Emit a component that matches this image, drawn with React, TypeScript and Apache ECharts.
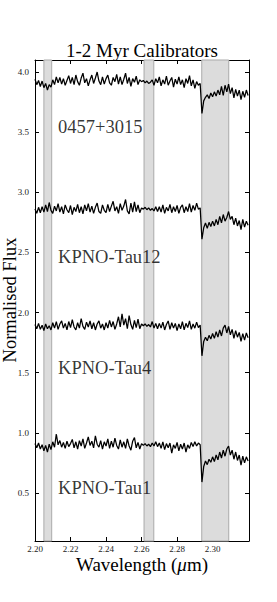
import React, { useEffect, useRef } from "react";
import * as echarts from "echarts";

// Sampling grid of the spectra (micron)
const WL_START = 2.2;
const WL_STEP = 0.001;

// Normalised flux (offset) of each spectrum
const S_0457 = [
  3.940, 3.895, 3.930, 3.880, 3.925, 3.870, 3.905, 3.850, 3.895, 3.875,
  3.935, 3.895, 3.960, 3.910, 3.955, 3.900, 3.945, 3.890, 3.930, 3.970,
  3.905, 3.955, 3.895, 3.975, 3.920, 3.890, 3.950, 3.990, 3.910, 3.945,
  3.885, 3.935, 3.975, 3.905, 3.950, 4.000, 3.925, 3.895, 3.960, 3.900,
  3.945, 3.975, 3.910, 3.890, 3.955, 3.920, 3.980, 3.900, 3.960, 3.895,
  3.940, 3.990, 3.905, 3.955, 3.880, 3.945, 3.915, 3.965, 3.895, 3.935,
  3.920, 3.930, 3.910, 3.925, 3.905, 3.915, 3.935, 3.890, 3.945, 3.910,
  3.960, 3.885, 3.935, 3.900, 3.965, 3.890, 3.925, 3.955, 3.875, 3.940,
  3.900, 3.960, 3.895, 3.935, 3.870, 3.945, 3.905, 3.970, 3.885, 3.935,
  3.865, 3.920, 3.890, 3.905, 3.655, 3.760, 3.790, 3.810, 3.780, 3.825,
  3.795, 3.835, 3.800, 3.850, 3.810, 3.880, 3.805, 3.890, 3.835, 3.900,
  3.820, 3.870, 3.785, 3.855, 3.800, 3.850, 3.770, 3.840, 3.790, 3.850,
  3.805,
];
const S_TAU12 = [
  2.860, 2.825, 2.875, 2.830, 2.880, 2.835, 2.895, 2.840, 2.915, 2.850,
  2.825, 2.885, 2.845, 2.905, 2.835, 2.880, 2.820, 2.895, 2.855, 2.830,
  2.890, 2.815, 2.875, 2.840, 2.900, 2.830, 2.880, 2.820, 2.895, 2.845,
  2.905, 2.835, 2.885, 2.825, 2.875, 2.910, 2.840, 2.825, 2.895, 2.850,
  2.830, 2.900, 2.840, 2.885, 2.925, 2.845, 2.880, 2.825, 2.905, 2.850,
  2.885, 2.940, 2.845, 2.820, 2.910, 2.835, 2.920, 2.840, 2.895, 2.830,
  2.870, 2.860, 2.875, 2.855, 2.870, 2.850, 2.865, 2.845, 2.880, 2.840,
  2.880, 2.835, 2.895, 2.825, 2.875, 2.845, 2.900, 2.830, 2.880, 2.840,
  2.890, 2.825, 2.875, 2.895, 2.830, 2.880, 2.840, 2.905, 2.835, 2.890,
  2.850, 2.910, 2.860, 2.870, 2.610, 2.705, 2.745, 2.700, 2.750, 2.715,
  2.760, 2.720, 2.775, 2.730, 2.800, 2.745, 2.815, 2.760, 2.790, 2.840,
  2.775, 2.800, 2.730, 2.785, 2.720, 2.765, 2.690, 2.775, 2.710, 2.760,
  2.725,
];
const S_TAU4 = [
  1.900, 1.865, 1.910, 1.860, 1.895, 1.850, 1.905, 1.865, 1.890, 1.855,
  1.915, 1.870, 1.925, 1.860, 1.905, 1.930, 1.870, 1.910, 1.855, 1.925,
  1.875, 1.940, 1.880, 1.855, 1.915, 1.870, 1.950, 1.885, 1.860, 1.920,
  1.880, 1.930, 1.865, 1.915, 1.855, 1.905, 1.930, 1.870, 1.905, 1.855,
  1.915, 1.870, 1.935, 1.880, 1.925, 1.860, 1.905, 1.965, 1.880, 1.990,
  1.895, 1.950, 1.865, 1.975, 1.900, 1.860, 1.935, 1.875, 1.945, 1.865,
  1.905, 1.890, 1.905, 1.885, 1.900, 1.880, 1.925, 1.870, 1.910, 1.865,
  1.910, 1.870, 1.920, 1.855, 1.900, 1.930, 1.860, 1.915, 1.870, 1.910,
  1.850, 1.905, 1.865, 1.925, 1.855, 1.910, 1.875, 1.930, 1.860, 1.905,
  1.870, 1.920, 1.875, 1.895, 1.640, 1.760, 1.795, 1.765, 1.810, 1.780,
  1.825, 1.785, 1.840, 1.795, 1.855, 1.805, 1.870, 1.895, 1.830, 1.885,
  1.815, 1.860, 1.785, 1.850, 1.795, 1.835, 1.760, 1.825, 1.770, 1.830,
  1.790,
];
const S_TAU1 = [
  0.910, 0.875, 0.915, 0.865, 0.900, 0.850, 0.895, 0.840, 0.905, 0.860,
  0.925, 0.880, 0.990, 0.900, 0.935, 0.880, 0.920, 0.870, 0.930, 0.885,
  0.910, 0.945, 0.875, 0.925, 0.865, 0.935, 0.890, 0.950, 0.870, 0.915,
  0.965, 0.895, 0.930, 0.875, 0.975, 0.905, 0.880, 0.935, 0.865, 0.925,
  0.890, 0.950, 0.870, 0.930, 0.880, 0.955, 0.895, 0.865, 0.940, 0.880,
  0.925, 0.870, 0.950, 0.890, 0.855, 0.930, 0.960, 0.875, 0.920, 0.865,
  0.910, 0.895, 0.910, 0.890, 0.905, 0.885, 0.915, 0.890, 0.925, 0.885,
  0.915, 0.870, 0.925, 0.860, 0.910, 0.875, 0.915, 0.830, 0.900, 0.870,
  0.920, 0.850, 0.905, 0.865, 0.915, 0.840, 0.900, 0.870, 0.920, 0.885,
  0.925, 0.890, 0.915, 0.900, 0.590, 0.720, 0.765, 0.735, 0.780, 0.755,
  0.800, 0.760, 0.815, 0.775, 0.840, 0.790, 0.855, 0.805, 0.865, 0.890,
  0.815, 0.855, 0.780, 0.840, 0.770, 0.815, 0.730, 0.805, 0.750, 0.800,
  0.765,
];

const SPECTRA = [S_0457, S_TAU12, S_TAU4, S_TAU1];
const NAMES = ["0457+3015", "KPNO-Tau12", "KPNO-Tau4", "KPNO-Tau1"];
const LABEL_X = 2.213;
const LABEL_Y = [3.54, 2.46, 1.54, 0.54];

// Shaded wavelength windows (micron)
const BANDS = [
  [2.205, 2.2094],
  [2.2614, 2.2669],
  [2.2939, 2.3091],
];

const X_MIN = 2.2;
const X_MAX = 2.3205;
const Y_MIN = 0.1;
const Y_MAX = 4.1;
const X_TICKS = [2.2, 2.22, 2.24, 2.26, 2.28, 2.3];
const Y_TICKS = [0.5, 1.0, 1.5, 2.0, 2.5, 3.0, 3.5, 4.0];

const TITLE = "1-2 Myr Calibrators";
const X_NAME = "Wavelength ({i|\u03bc}m)";
const Y_NAME = "Normalised Flux";

const FONT = "Liberation Serif";

export default function App() {
  const ref = useRef<HTMLDivElement>(null);

  useEffect(() => {
    if (!ref.current) return;
    const chart = echarts.init(ref.current, undefined, { renderer: "svg" });

    const axisLine = { show: true, onZero: false, lineStyle: { color: "#000", width: 1 } };
    const xTick = { show: true, inside: true, length: 4, customValues: X_TICKS, lineStyle: { color: "#000", width: 1 } };
    const yTick = { show: true, inside: true, length: 4, customValues: Y_TICKS, lineStyle: { color: "#000", width: 1 } };

    const lineSeries = SPECTRA.map((s, k) => ({
      type: "line",
      xAxisIndex: 0,
      yAxisIndex: 0,
      data: s.map((v, i) => [WL_START + i * WL_STEP, v]),
      showSymbol: false,
      symbol: "none",
      silent: true,
      z: 3,
      lineStyle: { color: "#000", width: 1.25 },
      ...(k === 0
        ? {
            markArea: {
              silent: true,
              itemStyle: { color: "#dcdcdc", borderColor: "#aaaaaa", borderWidth: 1 },
              data: BANDS.map(([a, b]) => [{ xAxis: a }, { xAxis: b }]),
            },
          }
        : {}),
    }));

    chart.setOption({
      animation: false,
      textStyle: { fontFamily: FONT },
      grid: { left: 35, right: 28, top: 60, bottom: 61, containLabel: false },
      xAxis: [
        {
          type: "value",
          position: "bottom",
          min: X_MIN,
          max: X_MAX,
          axisLine,
          axisTick: xTick,
          splitLine: { show: false },
          axisLabel: {
            customValues: X_TICKS,
            formatter: (v: number) => v.toFixed(2),
            fontFamily: FONT,
            fontSize: 9,
            color: "#222",
            margin: 3,
          },
        },
        {
          type: "value",
          position: "top",
          min: X_MIN,
          max: X_MAX,
          axisLine,
          axisTick: xTick,
          splitLine: { show: false },
          axisLabel: { show: false },
        },
      ],
      yAxis: [
        {
          type: "value",
          position: "left",
          min: Y_MIN,
          max: Y_MAX,
          axisLine,
          axisTick: yTick,
          splitLine: { show: false },
          axisLabel: {
            customValues: Y_TICKS,
            formatter: (v: number) => v.toFixed(1),
            fontFamily: FONT,
            fontSize: 9,
            color: "#222",
            margin: 6,
          },
        },
        {
          type: "value",
          position: "right",
          min: Y_MIN,
          max: Y_MAX,
          axisLine,
          axisTick: yTick,
          splitLine: { show: false },
          axisLabel: { show: false },
        },
      ],
      series: [
        ...lineSeries,
        {
          type: "scatter",
          xAxisIndex: 0,
          yAxisIndex: 0,
          symbolSize: 0,
          silent: true,
          z: 4,
          data: LABEL_Y.map((y, i) => ({ value: [LABEL_X, y], name: NAMES[i] })),
          label: {
            show: true,
            position: "right",
            distance: 0,
            formatter: "{b}",
            fontFamily: FONT,
            fontSize: 18.5,
            color: "#000",
          },
        },
      ],
      graphic: [
        {
          type: "text",
          x: 142,
          y: 50,
          style: {
            text: TITLE,
            font: "19px Liberation Serif",
            fill: "#000",
            textAlign: "center",
            textVerticalAlign: "middle",
          },
        },
        {
          type: "text",
          x: 142,
          y: 564,
          style: {
            text: X_NAME,
            font: "19px Liberation Serif",
            fill: "#000",
            textAlign: "center",
            textVerticalAlign: "middle",
            rich: { i: { fontFamily: FONT, fontSize: 19, fontStyle: "italic", fill: "#000" } },
          },
        },
        {
          type: "text",
          x: 9.5,
          y: 300,
          rotation: Math.PI / 2,
          style: {
            text: Y_NAME,
            font: "18.5px Liberation Serif",
            fill: "#000",
            textAlign: "center",
            textVerticalAlign: "middle",
          },
        },
      ],
    });

    return () => chart.dispose();
  }, []);

  return (
    <div
      ref={ref}
      style={{ position: "absolute", left: 0, top: 0, width: 277, height: 602, background: "#fff" }}
    />
  );
}
